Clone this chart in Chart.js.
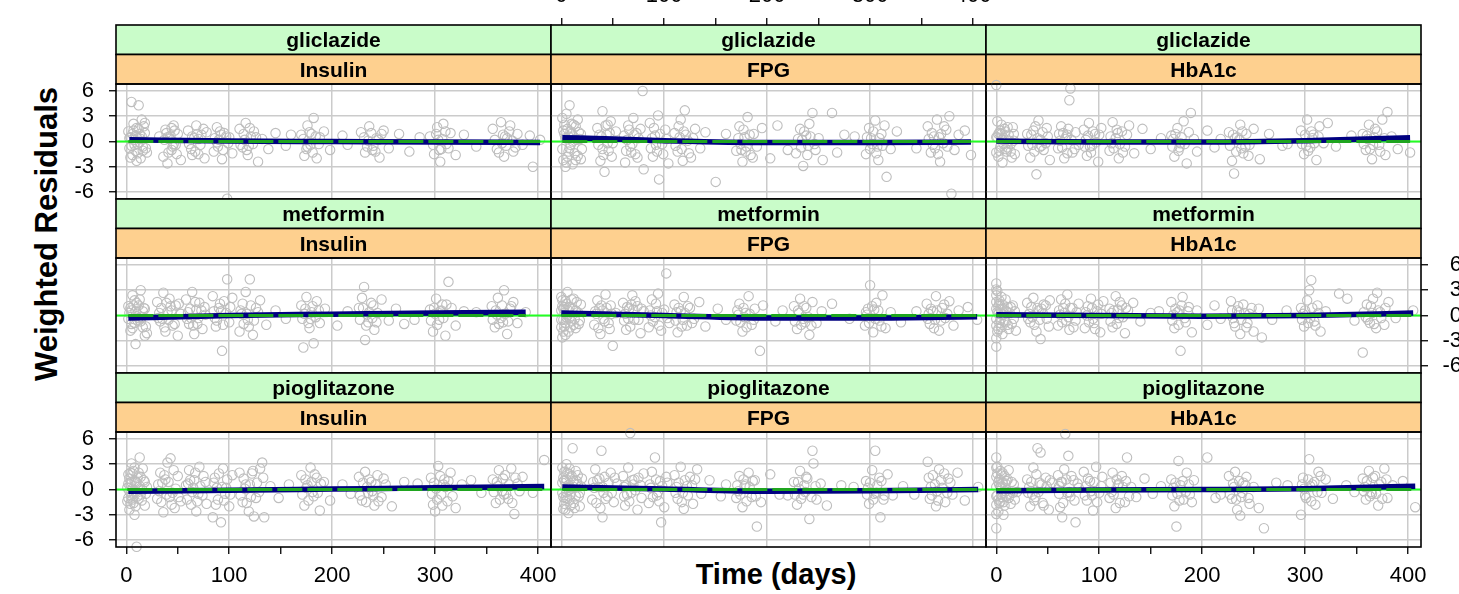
<!DOCTYPE html>
<html>
<head>
<meta charset="utf-8">
<script src="https://cdn.jsdelivr.net/npm/chart.js"></script>
<style>
  html, body { margin: 0; padding: 0; background: #fff; overflow: hidden; }
  #wrap { position: relative; width: 1459px; height: 594px; overflow: hidden; }
  #wrap canvas { position: absolute; left: 0; top: 0; }
  .lab { position: absolute; font: bold 29px "Liberation Sans", Arial, sans-serif; line-height: 1; color: #000; white-space: nowrap; }
  #ylab { left: 46px; top: 234px; font-size: 31px; transform: translate(-50%, -50%) rotate(-90deg); }
  #xlab { left: 776px; top: 574px; transform: translate(-50%, -50%); }
</style>
</head>
<body>
<div id="wrap">
  <div class="lab" id="ylab">Weighted Residuals</div>
  <div class="lab" id="xlab">Time (days)</div>
</div>
<script>
// tick labels and panel names
var timeTicks = [0, 50, 100, 150, 200, 250, 300, 350, 400];
var residualTicks = [-6, -3, 0, 3, 6];
var drugs = ['gliclazide', 'metformin', 'pioglitazone'];
var markers = ['Insulin', 'FPG', 'HbA1c'];

// weighted residuals [time, residual]
var gliInsulin = [[2,1.2],[3,-0.8],[4,0.5],[5,4.7],[6,-1.6],[7,2.1],[8,0.2],[9,-1.1],[10,1.6],[11,-0.3],[12,4.3],[13,0.9],[14,-2.0],[15,2.6],[16,-0.6],[18,1.0],[20,-1.3],
  [32,0.6],[36,-1.8],[38,1.4],[40,-2.6],[42,0.3],[44,-1.0],[46,1.9],[48,-0.4],[50,0.9],[53,-2.2],
  [60,1.3],[63,-0.9],[66,0.4],[68,1.9],[70,-1.5],[73,0.8],[76,-2.0],[78,1.1],
  [85,-1.2],[88,1.7],[90,0.2],[93,-2.1],[95,1.0],[98,-6.8],[100,0.5],[103,-1.4],
  [110,1.5],[113,-0.7],[116,2.2],[118,-1.6],[121,0.6],[124,1.2],[128,-2.4],[132,0.3],[138,-0.9],[145,1.0],
  [170,0.8],[173,-1.7],[176,1.9],[179,-0.4],[182,2.8],[185,-2.0],[188,0.5],[192,1.2],[198,-1.0],[210,0.7],
  [228,1.1],[232,-1.3],[236,1.8],[240,-0.5],[243,0.4],[246,-1.9],[250,1.3],[255,-0.8],[265,0.9],[275,-1.2],
  [295,0.6],[299,-1.5],[302,1.7],[305,-2.4],[308,2.1],[311,-0.3],[315,1.0],[320,-1.6],[328,0.8],
  [356,1.5],[360,-0.9],[364,2.3],[367,-1.8],[370,0.4],[373,1.9],[376,-1.2],[380,0.9],[385,-0.4],[392,0.7],[395,-3.0],[402,0.2],
  [3,0.4],[5,-0.5],[7,1.3],[9,0.7],[11,-1.4],[13,-0.1],[15,0.6],[17,1.8],[19,-0.8],
  [37,0.2],[39,1.0],[41,-1.3],[43,0.7],[45,-0.6],[47,1.3],[49,-1.5],
  [61,-0.3],[64,0.6],[67,-1.2],[69,0.9],[72,-0.4],[75,1.5],
  [86,0.4],[89,-0.6],[91,1.2],[94,-1.0],[97,0.6],[99,-0.2],
  [111,-0.4],[114,0.9],[117,-1.0],[120,1.6],[123,-0.3],[126,0.5],
  [172,0.3],[175,-0.9],[178,1.1],[181,-1.3],[184,0.6],[187,-0.3],
  [231,0.5],[234,-0.6],[238,1.0],[242,-1.2],[245,0.2],[248,0.9],
  [298,-0.4],[301,0.9],[304,-1.0],[307,0.3],[310,1.2],[313,-0.8],
  [358,0.2],[362,-1.3],[366,0.8],[369,-0.5],[372,1.2],[375,0.1],[378,-0.7],
  [4,-1.9],[6,0.9],[8,-0.4],[10,-2.3],[12,1.5],[14,0.3],[16,-1.1],[18,2.2],[40,0.5],[44,1.6],[46,-0.3],[64,-1.6],[70,0.3],[88,-0.1],[92,0.8],
  [115,0.2],[119,-0.5],[176,-0.6],[180,0.9],[235,0.1],[239,-1.0],[303,0.2],[306,-0.9],[365,-0.2],[368,0.6],[155,-0.5],[160,0.8],[215,-0.4],[285,0.5],[340,-0.6]];
var gliFPG = [[1,2.8],[2,-2.2],[3,0.9],[4,-3.0],[5,3.3],[6,1.5],[7,-1.2],[8,4.3],[9,-0.4],[10,2.1],[11,-2.7],[12,0.6],[14,1.8],[16,-1.7],[18,0.3],[20,-0.9],
  [35,1.6],[38,-2.3],[40,3.6],[42,-3.6],[44,0.8],[46,-1.1],[48,2.4],[50,-0.2],[53,1.2],
  [62,-2.5],[65,1.9],[67,-0.6],[70,2.8],[72,-1.5],[75,0.4],[79,6.0],[80,-3.3],
  [86,2.2],[89,-1.8],[91,0.7],[94,3.1],[95,-4.5],[98,-0.3],[101,1.4],[104,-2.6],
  [110,1.0],[113,-1.2],[116,2.6],[118,-2.3],[120,3.7],[123,0.1],[126,-1.9],[130,1.5],[135,-0.8],[140,1.1],[150,-4.8],
  [170,-1.1],[173,1.8],[176,-2.4],[178,0.5],[181,2.9],[184,-1.6],[187,0.9],[190,-0.6],[195,1.6],[203,-2.0],[210,1.9],
  [228,-1.4],[232,1.5],[235,-2.9],[238,0.7],[241,2.1],[244,3.4],[247,-1.0],[250,0.4],[254,-2.2],[263,3.4],[268,-1.3],[275,0.8],
  [296,-1.5],[299,1.6],[302,-0.3],[305,2.5],[308,-2.2],[311,0.9],[314,1.9],[316,-4.2],[320,-0.9],[326,1.2],
  [356,1.8],[359,-1.3],[362,0.6],[365,2.6],[368,-2.4],[371,-0.2],[374,1.4],[377,3.0],[379,-6.2],[382,-1.0],[386,0.8],[392,1.3],[398,-1.6],
  [2,1.3],[4,0.4],[6,-1.8],[8,-0.8],[10,0.9],[12,2.0],[13,-1.4],[15,0.2],[17,1.1],[19,-2.1],
  [36,-0.4],[39,0.6],[41,-1.6],[43,1.9],[45,-0.2],[47,1.0],[49,-1.8],
  [61,0.7],[63,-1.1],[66,1.4],[69,-0.3],[71,0.8],[74,-1.9],[77,1.5],
  [87,-0.8],[90,1.6],[92,-0.4],[96,0.9],[99,-1.5],[102,0.3],
  [111,-0.5],[114,1.8],[117,-0.9],[121,0.8],[124,-1.4],[128,0.4],
  [172,0.4],[175,-1.0],[177,1.4],[180,-0.6],[183,0.8],[186,-1.9],
  [230,0.3],[233,-0.7],[236,1.2],[239,-1.6],[242,0.6],[246,-0.3],
  [297,0.5],[300,-0.9],[303,1.2],[306,-1.4],[309,0.4],[312,-0.5],
  [357,0.3],[360,1.0],[363,-0.8],[366,-1.5],[369,0.9],[372,1.8],[375,-0.6],
  [1,-0.9],[3,2.0],[5,-2.5],[7,0.6],[9,1.2],[11,0.0],[14,-2.2],[16,2.6],[19,0.9],[37,0.8],[40,-0.9],[45,2.0],[64,0.2],[68,-1.3],[73,1.0],[88,0.4],
  [93,-1.2],[115,0.5],[119,1.2],[174,-0.3],[179,-1.2],[234,0.2],[240,-0.5],[301,0.4],[307,-0.6],[361,-0.4],[367,0.5],[160,0.9],[220,-1.0],[285,0.6],[345,-0.8]];
var gliHbA1c = [[0,6.7],[1,2.4],[2,-1.8],[3,1.0],[4,-0.6],[5,2.0],[6,-2.5],[7,0.4],[8,1.5],[10,-1.2],[12,0.8],[14,-0.3],[16,1.7],[18,-1.5],
  [30,0.9],[33,-1.9],[36,1.3],[39,-3.9],[41,2.5],[43,0.2],[46,-1.0],[49,1.6],[52,-2.2],
  [60,-0.8],[63,1.8],[66,-2.0],[68,0.6],[71,4.9],[72,6.3],[74,-1.3],[77,1.1],[80,-0.4],
  [85,1.4],[88,-1.7],[90,2.2],[93,-0.5],[96,0.9],[99,-2.4],[102,1.6],
  [110,-1.1],[113,2.3],[116,0.4],[119,-2.0],[122,1.2],[125,-0.6],[129,1.9],[134,-1.4],[142,1.5],[150,-0.9],
  [170,0.7],[173,-1.8],[176,1.6],[179,-0.2],[182,2.4],[185,-2.6],[189,3.4],[192,0.3],[195,-1.2],[205,1.3],[212,-0.7],
  [226,1.1],[229,-2.3],[231,-3.8],[234,0.5],[237,2.0],[240,-1.4],[243,0.9],[246,-0.4],[250,1.5],[256,-2.1],[265,0.9],[278,-0.5],
  [296,1.3],[299,-1.5],[302,2.6],[305,-0.7],[308,0.8],[311,-2.2],[314,1.8],[318,-0.2],[322,2.2],[330,-0.6],
  [356,0.9],[359,-1.0],[362,2.0],[365,-2.1],[368,1.5],[372,-0.4],[375,2.6],[378,-1.6],[380,3.5],[384,0.6],[390,-0.9],[402,-1.3],
  [1,0.5],[3,-1.1],[5,0.9],[7,-0.3],[9,1.2],[11,-0.7],[13,0.1],[15,-1.9],[17,0.9],
  [31,-0.5],[34,0.8],[37,-1.2],[40,0.4],[42,-0.7],[45,1.1],[48,-0.2],[50,0.6],
  [61,0.9],[64,-0.7],[67,0.3],[69,-1.4],[70,1.5],[73,0.2],[76,-0.9],
  [86,-0.6],[89,0.7],[92,-1.3],[94,1.2],[97,-0.1],[100,0.8],
  [111,0.6],[114,-0.8],[117,1.4],[120,-0.3],[123,-1.3],[127,0.8],
  [171,-0.6],[174,0.9],[177,-1.1],[180,0.5],[183,-0.3],[187,1.1],
  [227,-0.5],[230,0.8],[233,-1.2],[236,0.2],[239,1.2],[242,-0.6],[245,-1.7],
  [297,-0.3],[300,0.8],[303,-1.1],[306,1.2],[309,-0.2],[313,0.6],
  [357,-0.3],[360,0.7],[363,-0.9],[367,0.5],[370,1.2],[373,-1.2],[377,0.4],
  [0,0.5],[0,-1.3],[2,0.9],[4,1.3],[6,0.2],[9,-0.9],[11,1.7],[14,-1.2],[17,0.1],[35,-0.4],[38,1.8],[44,-0.5],[62,0.1],[65,1.0],[69,0.8],[87,0.2],
  [91,-0.6],[112,-0.2],[118,1.0],[172,0.3],[178,-0.7],[232,0.4],[238,-0.8],[301,-0.5],[307,0.4],[361,0.3],[366,-0.4],[160,0.4],[218,0.3],[283,-0.3],[345,0.7]];
var metInsulin = [[2,1.1],[4,-1.8],[5,0.6],[6,2.4],[8,-0.9],[9,-3.4],[10,1.5],[12,-0.3],[14,3.0],[16,-1.4],[18,0.8],[20,-2.1],
  [30,1.6],[33,-0.7],[36,2.7],[38,-1.9],[40,0.4],[42,2.0],[45,-1.2],[48,1.2],[50,-2.4],[53,0.2],
  [58,1.9],[61,-1.0],[64,2.8],[66,-2.2],[68,0.7],[71,1.5],[74,-1.6],[77,0.1],
  [84,2.3],[87,-1.3],[90,0.9],[93,-4.2],[95,1.7],[98,4.3],[100,-0.8],[103,2.1],
  [110,-1.9],[113,1.4],[116,2.8],[118,-0.5],[120,4.3],[123,-2.3],[126,0.9],[130,1.8],[136,-1.1],[145,0.6],
  [170,1.2],[172,-3.8],[175,2.2],[178,-1.5],[180,0.4],[182,-3.3],[185,1.7],[188,-0.9],[193,0.8],[205,-1.2],
  [226,0.9],[229,2.1],[231,3.4],[232,-2.9],[235,-0.8],[238,1.5],[241,-1.7],[244,0.3],[248,1.9],[255,-0.6],[262,0.8],[270,-1.0],
  [295,0.7],[298,-1.9],[301,2.0],[304,-0.5],[307,1.3],[310,-2.4],[313,4.0],[316,0.9],[320,-1.2],[328,0.5],
  [355,1.1],[358,-1.4],[361,2.1],[364,-0.3],[367,3.0],[370,-2.2],[373,0.8],[376,1.6],[380,-0.9],[388,0.4],
  [3,0.3],[5,-1.0],[7,1.2],[9,0.5],[11,-0.6],[13,1.9],[15,-0.2],[17,0.9],[19,-1.3],
  [31,-0.3],[34,0.9],[37,-1.4],[39,1.5],[41,-0.5],[44,0.6],[47,-1.0],[51,1.4],
  [59,-0.4],[62,0.8],[65,-1.2],[67,1.6],[70,-0.3],[73,0.6],[76,1.0],
  [85,0.5],[88,-0.6],[91,1.4],[94,-1.1],[97,0.3],[101,1.0],
  [111,0.6],[114,-1.0],[117,0.2],[121,1.2],[124,-0.6],[128,0.4],
  [171,-0.4],[174,0.8],[177,-0.9],[181,1.1],[184,-0.2],[187,0.6],
  [227,-0.5],[230,0.9],[233,-1.2],[236,0.4],[240,1.2],[243,-0.8],
  [296,-0.6],[299,0.9],[302,-1.1],[305,0.5],[308,-0.3],[311,1.3],
  [356,-0.5],[359,0.6],[362,-1.0],[365,1.2],[368,0.2],[371,-0.7],[374,1.1],
  [2,-0.4],[4,0.9],[6,-1.5],[8,1.8],[10,-0.1],[12,1.2],[14,-0.7],[16,0.5],[18,-2.4],[32,0.3],[35,-0.4],[43,1.1],[60,0.4],[63,-0.3],[69,-1.0],[86,-0.3],
  [92,0.5],[112,0.2],[119,-1.3],[173,0.2],[179,-0.4],[234,0.1],[239,-0.3],[300,0.2],[306,0.6],[360,0.1],[366,-0.8],[155,-0.4],[215,0.5],[280,-0.5],[340,0.4]];
var metFPG = [[0,2.2],[1,-2.6],[2,0.8],[3,-1.3],[4,1.7],[5,-0.2],[6,2.8],[7,-1.9],[8,1.0],[10,-0.7],[12,2.0],[14,-1.5],[16,0.4],[19,1.3],
  [32,-1.1],[35,1.8],[38,-2.2],[40,0.6],[43,2.5],[46,-0.9],[48,1.2],[50,-3.6],[53,0.3],
  [60,1.5],[63,-1.7],[66,0.8],[69,2.4],[71,-0.5],[74,1.1],[77,-2.1],[80,0.5],
  [85,-1.4],[88,1.9],[91,-0.2],[94,2.6],[97,-1.8],[100,0.7],[102,5.0],[105,-0.9],
  [110,1.3],[113,-2.0],[116,0.5],[119,2.2],[122,-1.2],[125,0.9],[129,-0.4],[134,1.6],[140,-1.3],[152,0.8],
  [170,-0.6],[173,1.4],[176,-1.9],[179,0.3],[182,2.3],[185,-1.1],[188,0.8],[193,-4.2],[196,1.2],[208,-0.7],
  [226,1.1],[229,-1.6],[232,2.0],[235,-0.4],[238,0.9],[241,-2.3],[244,1.6],[248,-0.9],[253,0.5],[263,1.4],
  [295,-1.2],[298,0.8],[300,3.6],[303,-2.0],[306,1.5],[309,-0.6],[312,2.4],[315,-1.5],[320,0.4],[330,-0.8],
  [355,1.4],[358,-1.0],[361,0.5],[364,2.3],[367,-1.8],[370,0.9],[373,-0.3],[377,1.7],[381,-1.2],[386,0.6],[395,1.0],[404,-0.5],
  [0,-0.5],[1,1.1],[2,-1.9],[3,0.3],[4,-0.9],[5,1.4],[7,0.6],[9,-1.4],[11,0.8],[13,-0.4],[15,1.6],[17,-1.0],
  [33,0.5],[36,-1.5],[39,1.2],[41,-0.4],[44,0.9],[47,-1.6],[49,0.2],
  [61,-0.6],[64,1.0],[67,-1.3],[70,0.7],[72,1.7],[75,-0.5],[78,0.8],
  [86,0.6],[89,-0.7],[92,1.4],[95,-1.2],[98,0.3],[103,-0.3],
  [111,-0.6],[114,0.9],[117,-1.3],[120,0.3],[123,1.1],[127,-0.9],
  [171,0.6],[174,-0.8],[177,0.9],[180,-1.4],[183,0.2],[187,-0.5],
  [227,-0.7],[230,0.6],[233,-1.1],[236,1.1],[240,-0.2],[243,-1.2],
  [296,0.4],[299,-0.9],[302,1.1],[305,-0.4],[308,0.6],[311,-1.3],
  [356,-0.4],[359,0.8],[362,-1.5],[365,0.6],[369,-0.6],[372,1.3],[375,0.2],
  [0,0.6],[0,-1.4],[1,1.8],[2,-0.5],[3,1.0],[4,-2.3],[6,0.0],[8,-0.3],[10,1.9],[12,-1.1],[14,0.6],[18,-0.6],[34,0.2],[37,0.9],[42,-0.7],[62,0.2],
  [65,-0.4],[68,1.3],[87,0.0],[93,0.5],[112,0.4],[118,-0.5],[172,0.1],[178,-0.2],[231,0.3],[237,-0.8],[297,0.1],[304,0.7],[357,0.2],[363,-0.5],[160,-0.5],[215,0.6],[280,-0.4],[345,0.5]];
var metHbA1c = [[0,3.8],[0,-3.7],[1,2.9],[2,-1.6],[3,1.4],[4,-0.5],[5,2.2],[6,-2.2],[7,0.7],[9,1.9],[11,-1.1],[13,0.3],[16,1.2],[19,-1.8],
  [30,1.5],[33,-0.8],[36,2.1],[39,-1.9],[41,0.6],[43,-2.8],[46,1.3],[49,-0.4],[52,1.8],
  [60,-1.2],[63,1.9],[66,0.3],[69,2.5],[71,-1.7],[74,0.9],[77,-0.6],[80,1.4],
  [86,-1.5],[89,1.1],[92,2.0],[95,-0.9],[98,0.5],[101,-2.0],[104,1.7],
  [110,0.8],[113,-1.4],[116,2.3],[119,-0.3],[122,1.2],[125,-2.1],[128,0.6],[133,1.5],[140,-0.7],[150,0.3],
  [170,1.6],[173,-1.5],[176,0.4],[179,-4.2],[181,2.2],[184,-0.8],[187,1.0],[190,-2.0],[195,0.6],[205,-1.1],[212,1.2],
  [228,1.7],[231,-0.9],[234,0.6],[237,-2.2],[240,1.3],[243,-1.4],[246,0.2],[250,-1.9],[255,0.8],[258,-2.6],[268,-0.5],
  [296,0.9],[299,-1.3],[302,1.8],[304,3.0],[306,4.2],[309,-0.7],[312,1.2],[315,-1.9],[320,0.5],[333,2.6],[341,2.0],
  [356,-4.4],[360,1.3],[363,-0.9],[366,2.0],[369,-1.5],[370,2.7],[373,0.4],[377,-1.1],[381,1.6],[388,-0.3],[405,0.6],
  [0,1.6],[0,-1.2],[0,2.4],[0,-2.7],[1,0.4],[2,1.1],[3,-0.9],[4,0.8],[6,1.3],[8,-0.6],[10,0.5],[12,-1.6],[14,1.0],[17,-0.4],
  [31,-0.4],[34,1.0],[37,-1.1],[40,0.9],[42,-0.5],[45,0.3],[48,1.2],[51,-1.3],
  [61,0.6],[64,-0.8],[67,1.4],[70,-0.2],[72,0.9],[75,-1.4],[78,0.4],
  [87,0.4],[90,-0.8],[93,0.9],[96,-1.6],[99,1.3],[102,0.2],
  [111,-0.7],[114,0.6],[117,-1.0],[120,1.6],[123,-0.2],[126,0.9],
  [171,-0.6],[174,0.8],[177,-1.1],[180,1.2],[183,-0.3],[186,0.5],
  [229,0.6],[232,-1.3],[235,1.1],[238,-0.5],[241,0.3],[244,-0.9],[248,0.9],
  [297,-0.5],[300,0.6],[303,-0.9],[307,0.9],[310,-1.2],[313,0.3],
  [357,0.4],[361,-0.5],[364,1.1],[367,-1.0],[371,0.6],[374,-0.3],[378,0.9],
  [0,0.8],[0,-0.4],[0,3.1],[1,-1.9],[2,0.2],[3,1.8],[5,-1.4],[7,0.1],[9,-0.8],[11,1.0],[15,-1.0],[18,0.5],[32,0.2],[35,-0.2],[44,0.8],[62,0.1],
  [65,0.9],[68,-0.6],[88,0.0],[94,-0.4],[112,0.3],[118,0.7],[172,0.1],[178,0.6],[230,-0.3],[236,0.4],[298,0.2],[305,-0.3],[359,-0.2],[365,0.3],[158,0.5],[218,-0.4],[282,0.6],[348,-0.6]];
var pioInsulin = [[2,1.8],[3,-2.4],[4,0.6],[5,3.1],[6,-1.2],[7,2.2],[8,-3.0],[9,0.9],[10,-6.8],[11,1.4],[13,3.8],[14,-0.6],[16,2.5],[18,-1.9],[20,0.3],
  [30,-1.1],[33,2.0],[36,-2.7],[38,1.2],[40,3.2],[43,3.7],[45,-0.4],[47,-2.2],[50,1.6],[53,-1.4],
  [58,0.5],[61,2.3],[63,-1.8],[66,1.1],[68,-2.6],[71,2.7],[74,-0.7],[77,0.9],
  [84,-3.3],[86,1.4],[89,-1.2],[92,-3.9],[94,2.5],[97,0.2],[100,-2.0],[103,1.7],
  [110,2.0],[113,-1.5],[116,0.6],[119,-2.6],[122,1.9],[124,-3.2],[127,0.8],[130,2.5],[132,3.2],[134,-3.3],[140,0.4],[148,-1.0],
  [170,1.7],[173,-1.9],[176,0.5],[179,2.6],[182,-0.8],[185,1.4],[188,-2.5],[192,0.9],[198,-1.3],[210,0.6],
  [226,1.5],[229,-1.3],[232,2.1],[235,-0.4],[238,0.9],[241,-1.9],[244,1.7],[248,-0.9],[252,0.6],[258,-2.0],[270,0.9],
  [296,1.4],[298,-1.8],[300,-2.6],[303,2.8],[306,-0.6],[309,1.2],[312,-1.4],[315,2.0],[320,-2.2],[326,0.6],[335,1.1],
  [356,1.2],[359,-1.6],[362,2.3],[365,-0.2],[368,1.7],[371,-1.1],[374,2.5],[377,-2.9],[380,0.7],[385,1.5],[395,-0.4],[406,3.5],
  [1,0.2],[2,-1.0],[3,1.3],[4,-1.7],[5,0.9],[6,1.9],[7,-0.4],[8,1.0],[9,-2.0],[11,-0.8],[12,2.0],[13,0.4],[15,-1.3],[17,1.1],[19,-0.5],
  [31,0.6],[34,-1.5],[37,1.7],[39,-0.6],[41,0.9],[44,-1.8],[46,2.3],[48,0.1],[51,-0.9],
  [59,-1.2],[62,1.1],[64,-0.3],[67,2.0],[69,-1.4],[72,0.4],[75,1.6],[78,-1.7],
  [85,0.8],[87,-1.8],[90,1.9],[93,0.3],[95,-1.3],[98,1.2],[101,-0.6],
  [111,-0.7],[114,1.3],[117,-1.6],[120,0.6],[123,2.2],[126,-1.0],[129,-0.3],[133,1.4],
  [171,-0.6],[174,1.2],[177,-1.3],[180,0.9],[183,1.8],[186,-0.4],[189,0.7],
  [227,-0.7],[230,0.8],[233,-1.5],[236,1.2],[239,-0.2],[242,0.6],[245,-1.4],[250,1.3],
  [297,-0.5],[299,0.8],[302,-1.2],[305,1.6],[307,-1.9],[310,0.3],[313,1.0],[317,-0.8],
  [357,-0.3],[360,0.9],[363,-1.2],[366,1.3],[369,-0.5],[372,0.6],[375,-1.6],[378,1.4],[382,-0.2],
  [1,-1.4],[2,0.7],[3,-0.2],[4,2.0],[5,-0.8],[6,0.1],[7,-1.6],[8,2.6],[9,-0.3],[10,0.8],[12,-1.1],[14,1.5],[16,-0.1],[18,0.9],[32,-0.2],[35,0.8],
  [42,-0.9],[60,0.7],[65,0.2],[70,-0.5],[88,0.2],[96,-0.5],[115,0.1],[121,-0.9],[175,0.2],[181,-0.3],[234,0.3],[240,-0.7],[301,0.1],[308,0.6],
  [361,0.4],[367,-0.6],[158,0.6],[218,-0.5],[283,0.7],[345,-0.4]];
var pioFPG = [[1,2.6],[2,-2.3],[3,1.1],[4,-1.0],[5,3.0],[6,0.2],[7,-2.8],[8,1.8],[9,-0.6],[11,4.9],[12,-1.6],[14,2.2],[16,0.6],[18,-2.0],[20,1.3],
  [30,-1.2],[33,2.4],[36,0.3],[38,-2.2],[39,4.6],[40,-3.3],[42,1.5],[45,-0.8],[48,2.0],[51,-1.5],[54,0.7],
  [60,1.6],[62,-1.9],[65,2.6],[67,6.7],[68,-0.4],[71,1.2],[74,-2.4],[77,0.5],[80,1.9],
  [85,-1.6],[88,2.1],[91,3.8],[93,-0.7],[96,1.0],[97,-3.9],[100,-2.1],[103,0.8],
  [110,1.7],[113,-1.1],[116,2.7],[119,-2.3],[122,0.4],[125,1.5],[128,-1.7],[132,2.4],[136,-0.5],[144,1.1],[155,-0.8],
  [170,-1.0],[173,1.6],[176,-2.1],[179,0.6],[182,2.0],[185,-0.9],[188,1.1],[190,-4.4],[194,-1.5],[203,1.8],[212,-0.6],
  [226,0.9],[229,-1.8],[232,2.2],[235,-0.6],[238,1.5],[241,-3.5],[244,4.6],[245,3.1],[248,-1.2],[252,0.7],[258,-1.9],[272,0.5],
  [296,1.0],[299,-1.7],[302,2.3],[305,4.6],[306,-0.4],[309,1.4],[310,-3.3],[313,-1.2],[317,1.8],[322,-0.7],[332,0.4],
  [356,3.3],[358,-1.1],[361,1.7],[364,-2.0],[367,2.4],[370,0.2],[373,-1.5],[376,1.3],[380,-0.6],[385,2.0],[392,-1.3],[405,0.3],
  [1,-0.4],[2,1.4],[3,-1.7],[4,0.8],[5,-0.3],[6,2.0],[7,0.5],[8,-1.2],[10,1.6],[12,0.3],[13,-2.2],[15,1.0],[17,-0.8],[19,0.4],
  [31,0.9],[34,-1.6],[37,1.3],[40,0.3],[43,-1.1],[46,0.8],[49,-0.4],[52,1.4],
  [61,-0.8],[63,0.5],[66,-1.4],[69,1.1],[72,-0.1],[75,1.4],[78,-1.0],
  [86,0.6],[89,-0.9],[92,1.2],[95,-1.4],[98,0.4],[102,1.5],
  [111,-0.4],[114,0.8],[117,-1.5],[120,1.1],[123,-0.7],[127,0.5],[130,1.2],
  [171,0.5],[174,-0.6],[177,1.2],[180,-1.4],[183,0.3],[186,1.0],[189,-0.8],
  [227,-0.6],[230,0.9],[233,-1.1],[236,0.5],[239,1.3],[243,-0.9],[247,0.4],
  [297,-0.6],[300,0.8],[303,-1.2],[307,0.5],[311,1.0],[314,-0.7],
  [357,1.4],[360,-0.7],[363,0.6],[366,-1.3],[369,1.1],[372,1.9],[375,-0.4],[378,0.8],
  [1,0.8],[2,-0.9],[3,2.1],[4,-2.4],[5,1.2],[6,-1.1],[7,0.3],[8,2.5],[9,-1.9],[10,0.1],[12,1.0],[14,-0.8],[16,1.7],[18,-0.4],[32,0.2],[35,1.1],
  [41,-0.4],[61,0.3],[64,-0.6],[70,0.6],[87,0.2],[94,-0.3],[112,0.3],[118,-0.4],[172,-0.2],[178,0.4],[231,0.1],[237,-0.3],[298,0.2],[304,-0.5],
  [359,0.3],[365,-0.2],[160,0.6],[220,-0.7],[284,0.3],[343,-0.6]];
var pioHbA1c = [[0,3.8],[0,-4.6],[1,2.7],[2,-2.6],[3,1.2],[4,-1.4],[5,0.4],[6,2.0],[7,-3.0],[8,1.6],[10,-0.8],[12,2.3],[14,-1.7],[17,0.6],[20,-0.3],
  [30,1.2],[33,-2.0],[36,2.6],[38,-0.9],[40,4.9],[43,4.4],[45,-1.6],[48,1.4],[51,-2.4],[54,0.8],
  [60,1.7],[62,-2.1],[64,-3.3],[66,2.4],[67,6.6],[70,4.0],[72,-0.8],[75,1.1],[77,-3.9],[80,0.2],
  [85,2.1],[88,-1.3],[91,1.0],[94,-2.5],[97,2.7],[100,-0.4],[103,1.5],
  [110,-1.0],[113,2.0],[116,-2.2],[119,0.7],[122,1.6],[125,-1.5],[127,3.8],[131,0.3],[136,-0.9],[144,1.3],[152,-0.5],
  [170,1.2],[173,-2.0],[175,-4.4],[177,3.4],[179,0.5],[182,-1.2],[185,2.0],[188,-0.6],[192,1.1],[205,3.8],[213,-1.0],
  [226,1.6],[229,-1.1],[232,2.1],[234,-2.4],[237,-3.1],[240,0.8],[243,1.5],[246,-1.7],[250,0.3],[255,-2.2],[260,-4.6],[272,0.8],
  [296,-3.0],[298,1.4],[301,-1.0],[304,3.6],[307,0.6],[310,-1.8],[313,2.1],[316,-0.4],[320,1.2],[327,-1.1],[340,0.5],
  [356,1.3],[359,-1.2],[362,2.2],[365,-0.5],[368,1.6],[371,-1.9],[374,0.9],[377,2.5],[380,-1.0],[385,0.5],[395,1.0],[407,-2.1],
  [0,1.5],[0,-1.8],[0,2.6],[1,-0.7],[2,0.9],[3,-1.6],[4,0.3],[5,1.8],[6,-0.9],[8,-1.9],[9,0.7],[11,1.2],[13,-0.5],[15,0.9],[18,-1.2],
  [31,-0.4],[34,0.9],[37,-1.3],[39,1.8],[41,-0.3],[44,0.6],[46,-1.9],[49,0.4],[52,1.1],
  [61,-0.5],[63,0.9],[65,-1.6],[68,1.2],[71,-0.3],[73,1.6],[76,-1.3],[79,0.7],
  [86,-0.7],[89,1.3],[92,-0.2],[95,0.9],[98,-1.5],[102,0.4],
  [111,0.8],[114,-0.6],[117,1.2],[120,-1.6],[123,0.3],[126,1.0],[129,-0.8],
  [171,-0.7],[174,0.8],[178,-1.3],[181,1.0],[184,-0.3],[187,0.6],[190,-1.5],
  [227,-0.6],[230,0.7],[233,-1.2],[236,1.0],[239,-0.4],[242,0.5],[245,-1.0],
  [297,0.6],[300,-0.7],[303,1.2],[306,-1.4],[309,0.9],[312,-0.3],[315,1.6],
  [357,-0.2],[360,1.0],[363,-0.8],[366,1.4],[369,-0.5],[372,0.6],[375,-1.1],[379,1.2],
  [0,0.3],[0,-0.8],[0,-2.9],[1,1.9],[2,-1.2],[3,0.6],[4,2.2],[5,-0.6],[6,0.8],[7,-1.5],[9,-0.2],[10,1.0],[12,-1.0],[16,-0.4],[32,0.3],[35,-0.6],
  [42,0.8],[61,0.4],[64,0.9],[69,-0.4],[87,0.4],[93,-0.7],[112,-0.3],[118,0.5],[172,0.2],[176,-0.5],[231,0.3],[238,-0.9],[299,0.1],[305,0.4],
  [358,0.3],[364,-0.3],[160,0.4],[218,-0.6],[283,0.5],[348,-0.3]];

// smooth of the residuals in each panel
var gliInsulinSmooth = [[3,0.2],[100,0.05],[200,0],[300,-0.05],[402,-0.12]];
var gliFPGSmooth = [[1,0.45],[50,0.3],[100,0.1],[200,-0.12],[300,-0.12],[398,-0.05]];
var gliHbA1cSmooth = [[0,0.05],[100,-0.05],[200,-0.05],[300,0.1],[402,0.45]];
var metInsulinSmooth = [[2,-0.3],[100,0],[200,0.15],[300,0.3],[388,0.4]];
var metFPGSmooth = [[0,0.3],[100,0],[200,-0.3],[300,-0.3],[404,-0.15]];
var metHbA1cSmooth = [[0,0.1],[100,0],[200,-0.1],[300,0],[405,0.3]];
var pioInsulinSmooth = [[2,-0.2],[100,-0.1],[200,0.05],[300,0.2],[406,0.35]];
var pioFPGSmooth = [[1,0.3],[100,0.05],[200,-0.2],[300,-0.15],[405,0]];
var pioHbA1cSmooth = [[0,-0.15],[100,-0.05],[200,0],[300,0.1],[407,0.4]];

var residuals = [[gliInsulin, gliFPG, gliHbA1c], [metInsulin, metFPG, metHbA1c], [pioInsulin, pioFPG, pioHbA1c]];
var smooths = [[gliInsulinSmooth, gliFPGSmooth, gliHbA1cSmooth], [metInsulinSmooth, metFPGSmooth, metHbA1cSmooth], [pioInsulinSmooth, pioFPGSmooth, pioHbA1cSmooth]];

// page geometry
var CW = 1480, CH = 600;
var colLeft = [116, 551, 986], cellW = 435;
var rowTop = [25, 199, 373], cellH = 174;
var stripH = 29.5, panelH = 115;
var yLow = -6.83, yHigh = 6.83;
var yTop = yHigh + 2 * stripH * (yHigh - yLow) / panelH;
var tickFont = { family: '"Liberation Sans", Arial, sans-serif', size: 22 };

// strips, zero line and frames of one lattice cell
var latticePanel = {
  id: 'latticePanel',
  beforeDatasetsDraw: function(chart, args, opts) {
    var ctx = chart.ctx, a = chart.chartArea;
    ctx.save();
    ctx.lineWidth = 1.6;
    ctx.strokeStyle = '#000';
    ctx.fillStyle = '#c9fcc9';
    ctx.fillRect(a.left, a.top, a.right - a.left, stripH);
    ctx.strokeRect(a.left, a.top, a.right - a.left, stripH);
    ctx.fillStyle = '#fed08f';
    ctx.fillRect(a.left, a.top + stripH, a.right - a.left, stripH);
    ctx.strokeRect(a.left, a.top + stripH, a.right - a.left, stripH);
    ctx.fillStyle = '#000';
    ctx.font = 'bold 21px "Liberation Sans", Arial, sans-serif';
    ctx.textAlign = 'center';
    ctx.textBaseline = 'middle';
    var cx = (a.left + a.right) / 2;
    ctx.fillText(opts.drug, cx, a.top + stripH / 2 + 1.5);
    ctx.fillText(opts.marker, cx, a.top + stripH * 1.5 + 1.5);
    ctx.restore();
  },
  afterDatasetDraw: function(chart, args) {
    if (args.index !== 0) return;
    var ctx = chart.ctx, a = chart.chartArea;
    var y0 = chart.scales.y.getPixelForValue(0);
    ctx.save();
    ctx.strokeStyle = '#22ff22';
    ctx.lineWidth = 2;
    ctx.beginPath();
    ctx.moveTo(a.left, y0);
    ctx.lineTo(a.right, y0);
    ctx.stroke();
    ctx.restore();
  },
  afterDatasetsDraw: function(chart) {
    var ctx = chart.ctx, a = chart.chartArea;
    ctx.save();
    ctx.lineWidth = 1.6;
    ctx.strokeStyle = '#000';
    ctx.strokeRect(a.left, a.top + 2 * stripH, a.right - a.left, a.bottom - a.top - 2 * stripH);
    ctx.restore();
  }
};

function noPadding(s) {
  s.paddingTop = 0;
  s.paddingBottom = 0;
  s.paddingLeft = 0;
  s.paddingRight = 0;
}

var wrap = document.getElementById('wrap');

for (var r = 0; r < 3; r++) {
  for (var c = 0; c < 3; c++) {
    (function(r, c) {
      var canvas = document.createElement('canvas');
      canvas.width = CW;
      canvas.height = CH;
      canvas.style.width = CW + 'px';
      canvas.style.height = CH + 'px';
      wrap.appendChild(canvas);

      var showLeft = c === 0 && r !== 1;
      var showRight = c === 2 && r === 1;
      var showTop = r === 0 && c === 1;
      var showBottom = r === 2 && c !== 1;
      var showY = showLeft || showRight;
      var showX = showTop || showBottom;
      var yW = showLeft ? 60 : (showRight ? 41 : 0);
      var xH = showTop ? 25 : (showBottom ? 45 : 0);

      var left = colLeft[c], top = rowTop[r];
      var padding = {
        left: left - (showLeft ? yW : 0),
        right: CW - (left + cellW) - (showRight ? yW : 0),
        top: top - (showTop ? xH : 0),
        bottom: CH - (top + cellH) - (showBottom ? xH : 0)
      };

      var pts = residuals[r][c];
      var times = pts.map(function(p) { return p[0]; });
      var tMin = Math.min.apply(null, times), tMax = Math.max.apply(null, times);

      new Chart(canvas, {
        type: 'scatter',
        data: {
          datasets: [{
            data: pts.map(function(p) { return { x: p[0], y: p[1] }; }),
            pointRadius: 4.7,
            pointBorderWidth: 1.1,
            pointBorderColor: '#bebebe',
            pointBackgroundColor: 'rgba(0,0,0,0)',
            showLine: false,
            clip: false,
            order: 3
          }, {
            type: 'line',
            data: smooths[r][c].map(function(p) { return { x: p[0], y: p[1] }; }),
            borderColor: '#000080',
            borderWidth: 5.5,
            pointRadius: 0,
            fill: false,
            tension: 0.4,
            cubicInterpolationMode: 'monotone',
            order: 2
          }, {
            type: 'line',
            data: [{ x: tMin, y: 0 }, { x: tMax, y: 0 }],
            borderColor: '#1fa51f',
            borderWidth: 3,
            borderDash: [25, 5],
            pointRadius: 0,
            fill: false,
            order: 1
          }]
        },
        options: {
          responsive: false,
          animation: false,
          devicePixelRatio: 1,
          events: [],
          layout: { padding: padding, autoPadding: false },
          plugins: {
            legend: { display: false },
            tooltip: { enabled: false },
            latticePanel: { drug: drugs[r], marker: markers[c] }
          },
          scales: {
            x: {
              type: 'linear',
              position: showTop ? 'top' : 'bottom',
              min: -10,
              max: 412.6,
              afterBuildTicks: function(s) { s.ticks = timeTicks.map(function(v) { return { value: v }; }); },
              afterFit: function(s) { s.height = xH; noPadding(s); },
              border: { display: false },
              grid: {
                color: function(ctx) { return ctx.tick && ctx.tick.value % 100 === 0 ? '#cbcbcb' : 'rgba(0,0,0,0)'; },
                lineWidth: 1.5,
                drawTicks: showX,
                tickLength: 7,
                tickColor: '#000',
                tickWidth: 1.3
              },
              ticks: {
                display: showX,
                autoSkip: false,
                maxRotation: 0,
                padding: 9,
                color: '#000',
                font: tickFont,
                callback: function(v) { return v % 100 === 0 ? String(v) : ''; }
              }
            },
            y: {
              type: 'linear',
              position: showRight ? 'right' : 'left',
              min: yLow,
              max: yTop,
              afterBuildTicks: function(s) { s.ticks = residualTicks.map(function(v) { return { value: v }; }); },
              afterFit: function(s) { s.width = yW; noPadding(s); },
              border: { display: false },
              grid: {
                color: '#cbcbcb',
                lineWidth: 1.5,
                drawTicks: showY,
                tickLength: 7,
                tickColor: '#000',
                tickWidth: 1.3
              },
              ticks: {
                display: showY,
                autoSkip: false,
                padding: 15,
                color: '#000',
                font: tickFont,
                crossAlign: showRight ? 'far' : 'near',
                callback: function(v) { return String(v); }
              }
            }
          }
        },
        plugins: [latticePanel]
      });
    })(r, c);
  }
}
</script>
</body>
</html>
